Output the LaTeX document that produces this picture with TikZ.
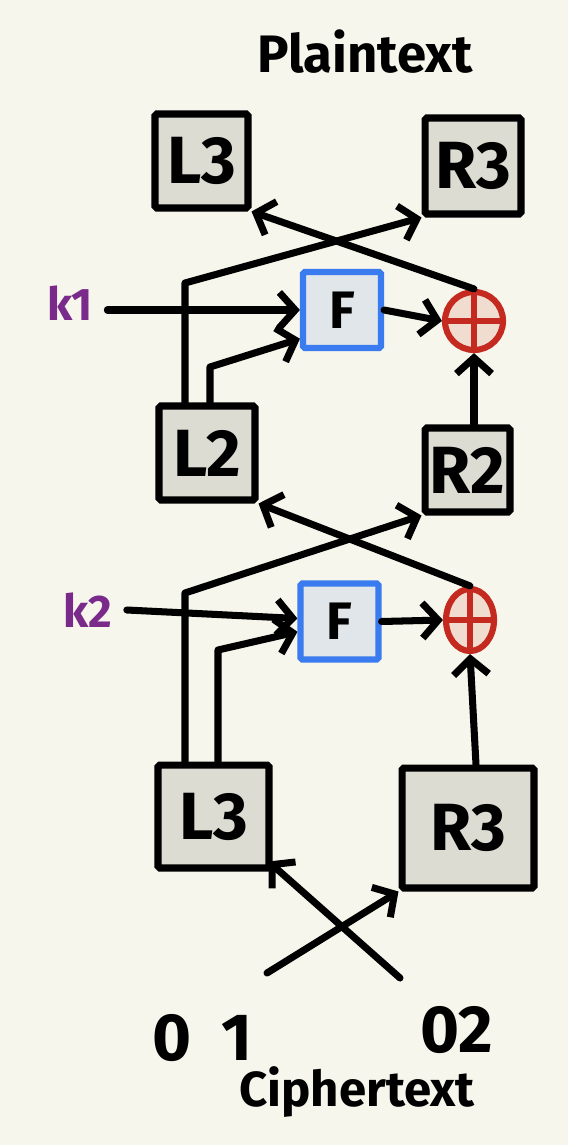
\documentclass[tikz,border=0pt]{standalone}
\usepackage{fontspec}
\setmainfont{Fira Sans}
\usetikzlibrary{arrows.meta,shapes.geometric,calc}
\definecolor{bg}{HTML}{F6F6EC}
\definecolor{boxfill}{HTML}{DCDCD3}
\definecolor{ffill}{HTML}{E0E6E9}
\definecolor{fblue}{HTML}{3A7CF0}
\definecolor{xred}{HTML}{C42A20}
\definecolor{xfill}{HTML}{F0DDD0}
\definecolor{kpurple}{HTML}{7A2A8A}
\begin{document}
\begin{tikzpicture}[x=0.02cm,y=-0.02cm,
  wire/.style={line width=4pt, line cap=round, line join=round},
  arr/.style={wire, -{Straight Barb[length=9pt,width=20pt]}},
  box/.style={draw=black, fill=boxfill, line width=4pt, inner sep=0pt, rounded corners=1pt,
    font=\fontsize{38}{42}\selectfont\bfseries},
  fbox/.style={draw=fblue, fill=ffill, line width=3.5pt, inner sep=0pt, rounded corners=1pt,
    minimum width=1.56cm, minimum height=1.52cm, font=\fontsize{30}{34}\selectfont\bfseries},
  xor/.style={ellipse, draw=xred, fill=xfill, line width=3.5pt, inner sep=0pt},
  klbl/.style={text=kpurple, font=\fontsize{26}{30}\selectfont\bfseries, inner sep=8pt},
  title/.style={font=\fontsize{30}{34}\selectfont\bfseries},
  digits/.style={font=\fontsize{38}{42}\selectfont\bfseries}
]
\fill[bg] (0,0) rectangle (568,1145);
\useasboundingbox (0,0) rectangle (568,1145);

% titles
\node[title] (pt) at (365,52) {Plaintext};
\node[title, font=\fontsize{28}{32}\selectfont\bfseries] (ct) at (357,1092) {Ciphertext};
\node[digits] (d1) at (203,1038) {0\hspace{0.45em}1};
\node[digits] (d2) at (457,1030) {02};

% boxes
\node[box, minimum width=1.86cm, minimum height=1.88cm] (L3t) at (201.5,161) {L3};
\node[box, minimum width=1.92cm, minimum height=1.92cm] (R3t) at (473,166) {R3};
\node[box, minimum width=1.92cm, minimum height=1.88cm] (L2) at (207,453) {L2};
\node[box, minimum width=1.70cm, minimum height=1.68cm] (R2) at (467.5,470) {R2};
\node[box, minimum width=2.22cm, minimum height=2.06cm] (L3b) at (213.5,816.5) {L3};
\node[box, minimum width=2.64cm, minimum height=2.40cm] (R3b) at (468,828) {R3};

% F boxes
\node[fbox] (F1) at (342,310) {F};
\node[fbox] (F2) at (339.5,621.5) {F};

% XOR
\node[xor, minimum width=1.16cm, minimum height=1.16cm] (X1) at (474,321) {};
\draw[xred, line width=3.5pt] (X1.north) -- (X1.south) (X1.west) -- (X1.east);
\node[xor, minimum width=0.96cm, minimum height=1.24cm] (X2) at (470,620) {};
\draw[xred, line width=3.5pt] (X2.north) -- (X2.south) (X2.west) -- (X2.east);

% keys
\node[klbl] (k1) at (70,303) {k1};
\node[klbl] (k2) at (88,610) {k2};

% round 1 (top)
\draw[arr] (X1.north) -- (L3t.south east);
\coordinate (c1) at (185,283);
\draw[arr] (L2.north -| c1) -- (c1) -- (R3t.south west);
\coordinate (c2) at (210,367);
\draw[arr] (L2.north -| c2) -- (c2) -- ($(F1.west)!0.7!(F1.south west)$);
\draw[arr] (k1.east |- F1.west) -- (F1.west);
\draw[arr] (F1.east) -- (X1.west);
\draw[arr] (X1.south |- R2.north) -- (X1.south);

% round 2 (middle)
\draw[arr] (X2.north) -- (L2.south east);
\coordinate (c3) at (185,593);
\draw[arr] (L3b.north -| c3) -- (c3) -- (R2.south west);
\coordinate (c4) at (218,650);
\draw[arr] (L3b.north -| c4) -- (c4) -- ($(F2.west)!0.25!(F2.south west)$);
\draw[arr] (k2.east) -- ($(F2.west)+(0,-3)$);
\draw[arr] (F2.east) -- (X2.west);
\draw[arr] ($(R3b.north)+(8,0)$) -- (X2.south);

% input swap
\coordinate (o1) at (267,973);
\coordinate (o2) at (400,978);
\draw[arr] (o1) -- (R3b.south west);
\draw[arr] (o2) -- ($(L3b.south east)+(-4,-10)$);
\end{tikzpicture}
\end{document}
